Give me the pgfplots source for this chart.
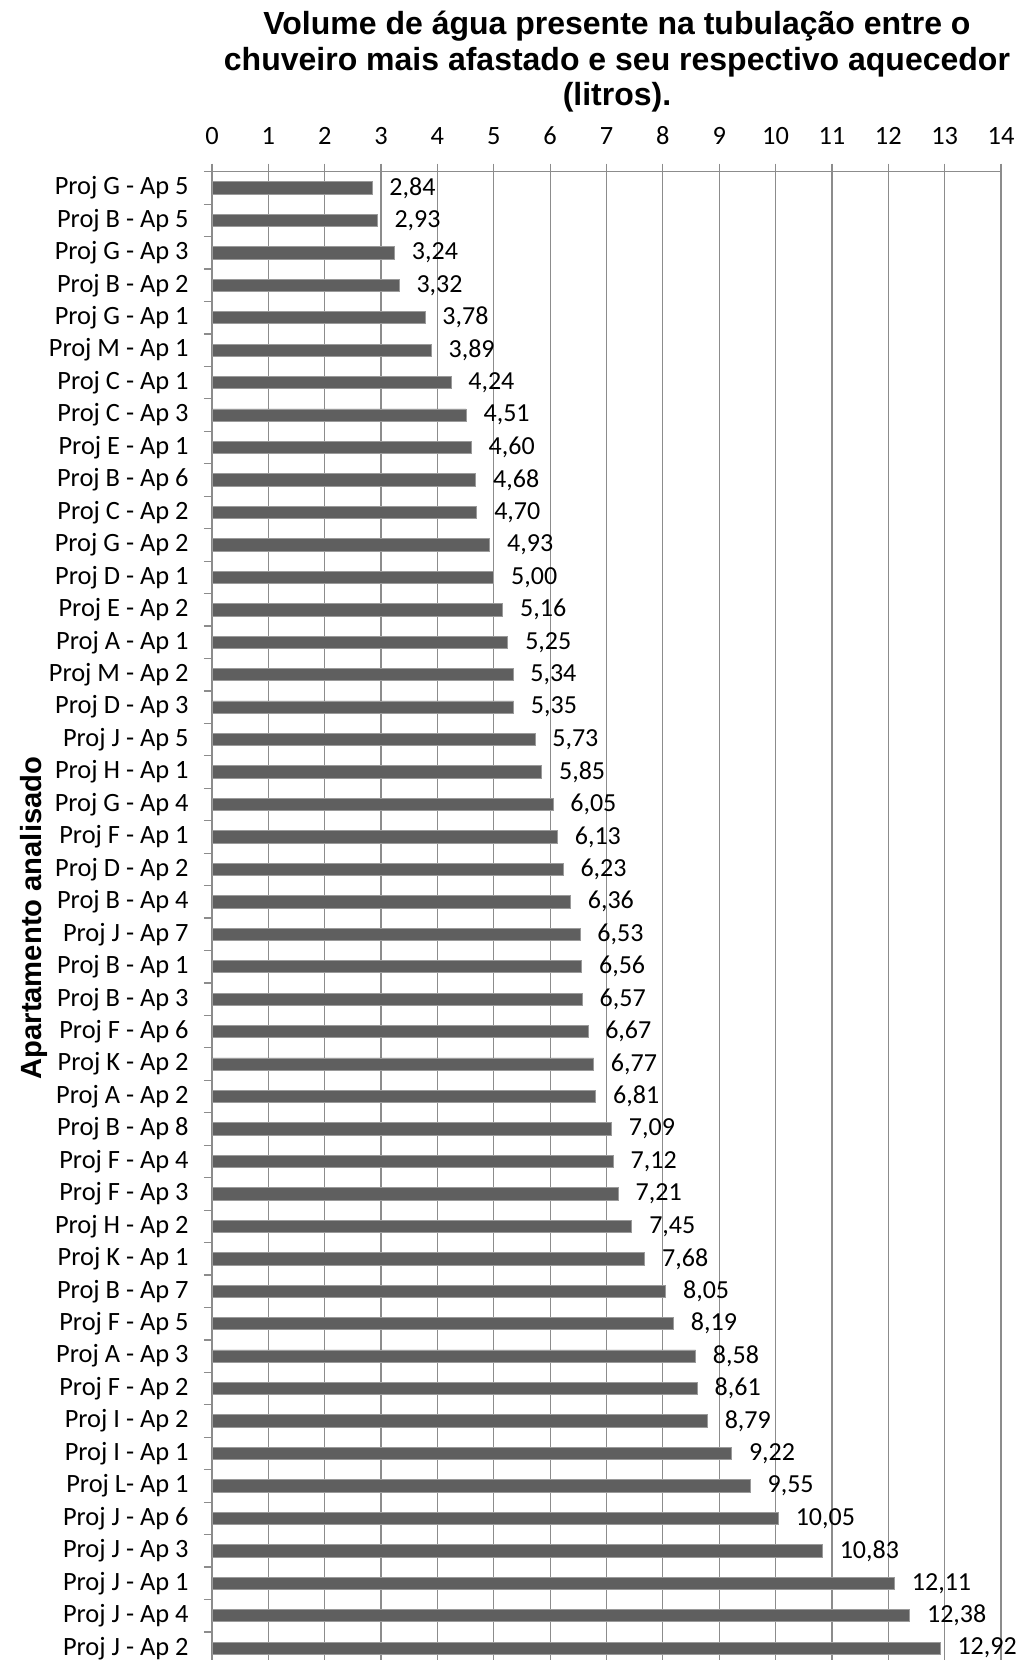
\documentclass[border=0pt]{standalone}
\usepackage{fontspec}
\setmainfont{Carlito}
\newfontfamily\titlefont{Liberation Sans}
\usepackage{pgfplots}
\usepackage{pgfplotstable}
\pgfplotsset{compat=1.18}

\definecolor{barfill}{HTML}{5F5F5F}
\definecolor{baredge}{HTML}{9A9A9A}
\definecolor{gridgray}{HTML}{8C8C8C}

% Volume (litres) per apartment, bottom row first
\pgfplotstableread[col sep=comma]{
pos,vol
0,12.92
1,12.38
2,12.11
3,10.83
4,10.05
5,9.55
6,9.22
7,8.79
8,8.61
9,8.58
10,8.19
11,8.05
12,7.68
13,7.45
14,7.21
15,7.12
16,7.09
17,6.81
18,6.77
19,6.67
20,6.57
21,6.56
22,6.53
23,6.36
24,6.23
25,6.13
26,6.05
27,5.85
28,5.73
29,5.35
30,5.34
31,5.25
32,5.16
33,5.00
34,4.93
35,4.70
36,4.68
37,4.60
38,4.51
39,4.24
40,3.89
41,3.78
42,3.32
43,3.24
44,2.93
45,2.84
}\volumes

\begin{document}
\begin{tikzpicture}
\begin{axis}[
  at={(0,0)}, anchor=north west,
  scale only axis, width=394.5pt, height=746.35pt,
  xmin=0, xmax=14, ymin=-0.5, ymax=45.5,
  xbar, bar width=6.15pt,
  xtick={0,...,14}, xtick pos=right, xticklabel pos=right,
  ytick={-0.5,0.5,...,45.5}, yticklabels={}, ytick pos=left,
  tick align=outside, major tick length=4pt,
  tick style={gridgray, line width=0.6pt},
  axis line style={gridgray, line width=0.6pt},
  xmajorgrids, grid style={gridgray, line width=0.6pt},
  extra y ticks={0,...,45},
  extra y tick labels={Proj J - Ap 2,Proj J - Ap 4,Proj J - Ap 1,Proj J - Ap 3,Proj J - Ap 6,Proj L- Ap 1,Proj I - Ap 1,Proj I - Ap 2,Proj F - Ap 2,Proj A - Ap 3,Proj F - Ap 5,Proj B - Ap 7,Proj K - Ap 1,Proj H - Ap 2,Proj F - Ap 3,Proj F - Ap 4,Proj B - Ap 8,Proj A - Ap 2,Proj K - Ap 2,Proj F - Ap 6,Proj B - Ap 3,Proj B - Ap 1,Proj J - Ap 7,Proj B - Ap 4,Proj D - Ap 2,Proj F - Ap 1,Proj G - Ap 4,Proj H - Ap 1,Proj J - Ap 5,Proj D - Ap 3,Proj M - Ap 2,Proj A - Ap 1,Proj E - Ap 2,Proj D - Ap 1,Proj G - Ap 2,Proj C - Ap 2,Proj B - Ap 6,Proj E - Ap 1,Proj C - Ap 3,Proj C - Ap 1,Proj M - Ap 1,Proj G - Ap 1,Proj B - Ap 2,Proj G - Ap 3,Proj B - Ap 5,Proj G - Ap 5},
  extra y tick style={major tick length=0pt},
  ticklabel style={font=\fontsize{13.2}{15}\selectfont, text=black},
  /pgf/number format/assume math mode=true,
  yticklabel style={inner sep=0pt, anchor=east, xshift=-11.5pt},
  xticklabel style={inner sep=0pt, anchor=south, yshift=9.5pt},
  point meta=x,
  nodes near coords={\pgfmathprintnumber[fixed,fixed zerofill,precision=2,use comma]{\pgfplotspointmeta}},
  nodes near coords style={anchor=west, inner sep=0pt, xshift=8.5pt,
    font=\fontsize{13}{15}\selectfont, text=black},
  clip=false,
]
\addplot[fill=barfill, draw=baredge, line width=0.4pt] table[x=vol, y=pos] {\volumes};
\coordinate (axtop) at (rel axis cs:0,1);
\coordinate (axmid) at (rel axis cs:0,0.5);
\end{axis}

% chart title, three centred lines
\begin{scope}[every node/.style={font=\titlefont\bfseries\fontsize{16}{19}\selectfont, anchor=base, inner sep=0pt}]
  \node at ([xshift=202.5pt, yshift=68.7pt]axtop) {Volume de água presente na tubulação entre o};
  \node at ([xshift=202.5pt, yshift=50.35pt]axtop) {chuveiro mais afastado e seu respectivo aquecedor};
  \node at ([xshift=202.5pt, yshift=32.85pt]axtop) {(litros).};
\end{scope}

% axis title for the categories
\node[font=\titlefont\bfseries\fontsize{14.6}{18}\selectfont, rotate=90, anchor=center, inner sep=0pt]
  at ([xshift=-89pt]axmid) {Apartamento analisado};

\pgfresetboundingbox
\useasboundingbox (-106pt,-744.15pt) rectangle (406pt,85.85pt);
\end{tikzpicture}
\end{document}
